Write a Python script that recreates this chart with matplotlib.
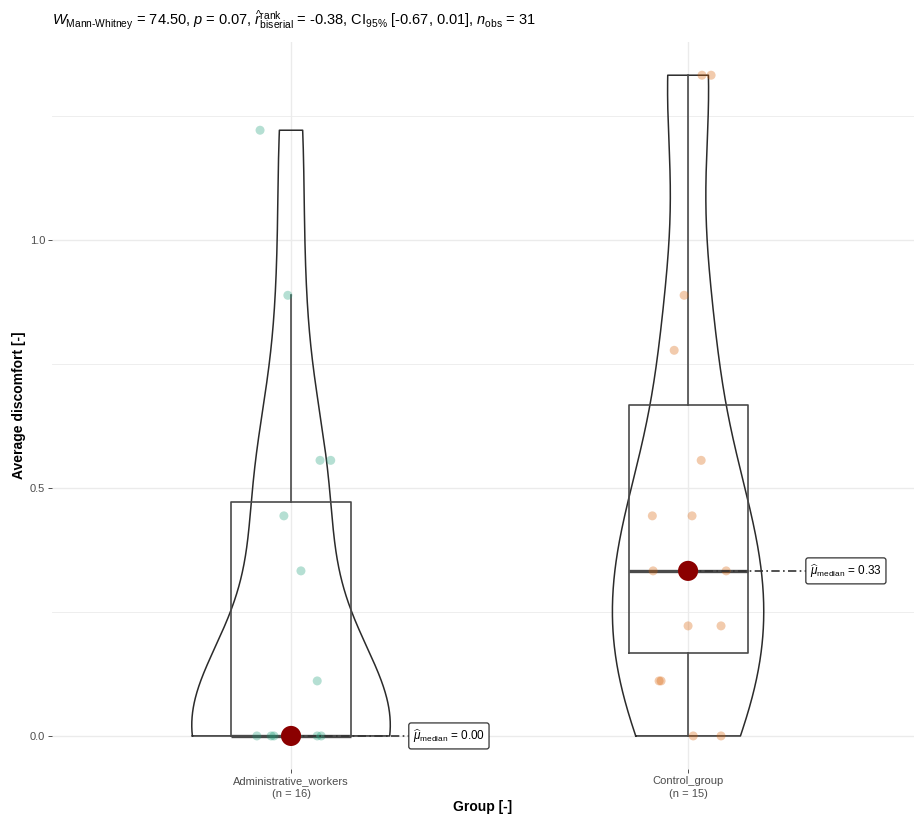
import numpy as np
import matplotlib
matplotlib.use("Agg")
import matplotlib.pyplot as plt

# data (averages)
groups = ["Administrative_workers", "Control_group"]
admin = [0, 0, 0, 0, 0, 0, 0, 0, 0, 0.111, 0.333, 0.444, 0.556, 0.556, 0.889, 1.222]
control = [0, 0, 0.111, 0.111, 0.222, 0.222, 0.333, 0.333, 0.444, 0.444,
           0.556, 0.778, 0.889, 1.333, 1.333]

# horizontal jitter of each point, as it appears in the picture
admin_jitter = [-0.086, -0.050, -0.043, -0.015, -0.005, 0.005, 0.015, 0.066, 0.076,
                0.066, 0.025, -0.018, 0.073, 0.100, -0.008, -0.078]
control_jitter = [0.013, 0.083, -0.073, -0.068, 0.0, 0.083, -0.088, 0.096,
                  -0.090, 0.010, 0.033, -0.035, -0.010, 0.035, 0.058]

point_colors = ["#1B9E77", "#D95F02"]

subtitle = (r"$W_{\mathrm{Mann\text{-}Whitney}}$ = 74.50, $p$ = 0.07, "
            r"$\widehat{r}_{\mathrm{biserial}}^{\mathrm{rank}}$ = -0.38, "
            r"CI$_{95\%}$ [-0.67, 0.01], $n_{\mathrm{obs}}$ = 31")

plt.rcParams['font.family'] = ['Liberation Sans', 'DejaVu Sans']
plt.rcParams['mathtext.fontset'] = 'custom'
plt.rcParams['mathtext.rm'] = 'Liberation Sans'
plt.rcParams['mathtext.it'] = 'Liberation Sans:italic'
plt.rcParams['mathtext.bf'] = 'Liberation Sans:bold'


def bw_nrd0(x):
    sd = np.std(x, ddof=1)
    q1, q3 = np.percentile(x, [25, 75])
    lo = min(sd, (q3 - q1) / 1.34)
    if lo == 0:
        lo = sd
    return 0.9 * lo * len(x) ** -0.2


def kde(x, grid):
    bw = bw_nrd0(x)
    z = (grid[:, None] - x[None, :]) / bw
    return np.exp(-0.5 * z ** 2).sum(1) / (len(x) * bw * np.sqrt(2 * np.pi))


data = [np.array(admin), np.array(control)]
jitters = [np.array(admin_jitter), np.array(control_jitter)]
positions = [1, 2]

fig = plt.figure(figsize=(9.14, 8.18), dpi=100)
ax = fig.add_axes([52 / 914, 49 / 818, 862 / 914, 727 / 818])

# violins (area scaled, trimmed)
grids, dens = [], []
for d in data:
    g = np.linspace(d.min(), d.max(), 512)
    grids.append(g)
    dens.append(kde(d, g))
dmax = max(k.max() for k in dens)
for pos, g, k in zip(positions, grids, dens):
    hw = 0.25 * k / dmax
    xs = np.r_[pos - hw, (pos + hw)[::-1], pos - hw[0]]
    ys = np.r_[g, g[::-1], g[0]]
    ax.plot(xs, ys, color='#2b2b2b', lw=1.1, zorder=2)

# boxplots
ax.boxplot(data, positions=positions, widths=0.3, showfliers=False, showcaps=False,
           whis=1.5, manage_ticks=False,
           boxprops=dict(color='#4a4a4a', lw=1.2),
           whiskerprops=dict(color='#4a4a4a', lw=1.2),
           medianprops=dict(color='#4a4a4a', lw=2.4), zorder=3)

# jittered points
for pos, d, j, c in zip(positions, data, jitters, point_colors):
    ax.scatter(pos + j, d, s=42, color=c, alpha=0.32, edgecolors='none', zorder=4)

# median points and labels
for pos, d in zip(positions, data):
    med = np.median(d)
    ax.plot([pos, pos + 0.297], [med, med], color='#333333', lw=1.2,
            dashes=(5, 2, 1, 2), zorder=5)
    ax.scatter([pos], [med], s=210, color='darkred', edgecolors='none', zorder=6)
    ax.text(pos + 0.307, med, r"$\widehat{\mu}_{\mathrm{median}}$ = %.2f" % med,
            fontsize=8.5, va='center', ha='left', zorder=7,
            bbox=dict(boxstyle='round,pad=0.35,rounding_size=0.2', fc='white',
                      ec='#333333', lw=0.9))

ax.set_xlim(0.398, 2.569)
ax.set_ylim(-0.0667, 1.4)
ax.set_yticks([0, 0.5, 1.0])
ax.set_yticklabels(["0.0", "0.5", "1.0"])
ax.set_yticks([0.25, 0.75, 1.25], minor=True)
ax.set_xticks(positions)
ax.set_xticklabels([f"{g}\n(n = {len(d)})" for g, d in zip(groups, data)])
for lab in ax.get_xticklabels():
    lab.set_linespacing(1.35)
ax.tick_params(axis='both', which='major', length=3, width=0.6, color='#333333',
               labelcolor='#4D4D4D', labelsize=8, pad=2)
ax.tick_params(axis='y', which='minor', length=0)
ax.grid(True, which='major', color='#EBEBEB', lw=1.0, zorder=0)
ax.grid(True, which='minor', axis='y', color='#EBEBEB', lw=0.6, zorder=0)
ax.set_axisbelow(True)
for s in ax.spines.values():
    s.set_visible(False)

ax.set_xlabel("Group [-]", fontsize=10, fontweight='bold', labelpad=1)
ax.set_ylabel("Average discomfort [-]", fontsize=10, fontweight='bold', labelpad=3)

fig.text(52 / 914, 1 - 20 / 818, subtitle, fontsize=10.5, va='center', ha='left')

fig.savefig("out.png", dpi=100)
